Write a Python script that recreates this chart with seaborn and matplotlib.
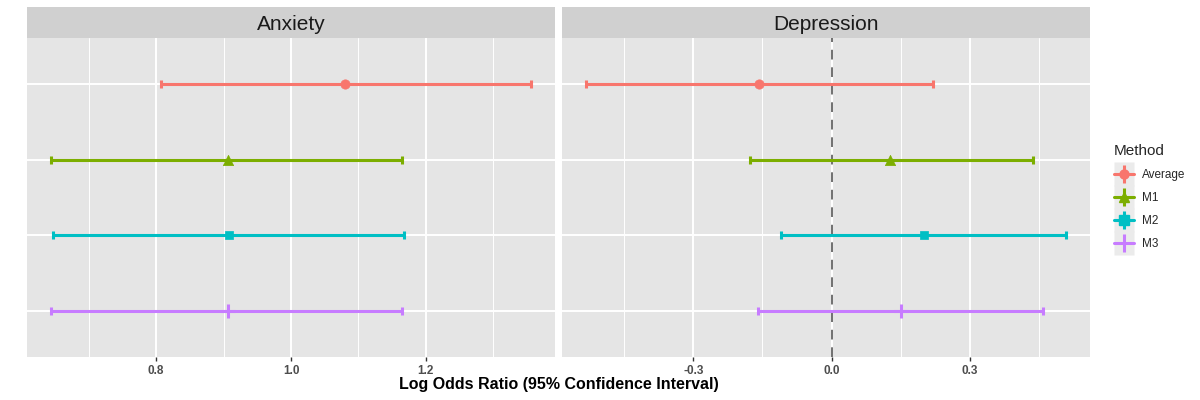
import numpy as np
import pandas as pd
import matplotlib
matplotlib.use("Agg")
import matplotlib.pyplot as plt
from matplotlib.ticker import MultipleLocator, AutoMinorLocator
from matplotlib.lines import Line2D
from matplotlib.legend_handler import HandlerTuple
import seaborn as sns

# ---- data ----
methods = ["Average", "M1", "M2", "M3"]
outcomes = ["Anxiety", "Depression"]
anx_est = [1.080, 0.907, 0.908, 0.907]
anx_lo = [0.807, 0.644, 0.647, 0.644]
anx_hi = [1.356, 1.164, 1.167, 1.164]
dep_est = [-0.157, 0.128, 0.200, 0.150]
dep_lo = [-0.533, -0.178, -0.109, -0.159]
dep_hi = [0.220, 0.437, 0.509, 0.459]
x_label = "Log Odds Ratio (95% Confidence Interval)"
legend_title = "Method"

colors = ["#F8766D", "#7CAE00", "#00BFC4", "#C77CFF"]
markers = ["o", "^", "s", "+"]
msizes = [45, 55, 40, 90]

df = pd.DataFrame({
    "Outcome": np.repeat(outcomes, len(methods)),
    "Method": methods * 2,
    "est": anx_est + dep_est,
    "lo": anx_lo + dep_lo,
    "hi": anx_hi + dep_hi,
})

sns.set_theme(style="darkgrid", rc={
    "axes.facecolor": "#E5E5E5",
    "grid.color": "white",
    "axes.edgecolor": "none",
    "axes.unicode_minus": False,
})
plt.rcParams["font.family"] = ["Liberation Sans", "DejaVu Sans"]
plt.rcParams["axes.unicode_minus"] = False

fig = plt.figure(figsize=(12, 4), dpi=100)
W, H = 1200, 400
top, bottom = 38, 357
strip_top = 7
panels = [(27, 555), (562, 1090)]

for (x0, x1), outcome in zip(panels, outcomes):
    ax = fig.add_axes([x0 / W, 1 - bottom / H, (x1 - x0) / W, (bottom - top) / H])
    sub = df[df["Outcome"] == outcome]
    for m, c, mk, s in zip(methods, colors, markers, msizes):
        r = sub[sub["Method"] == m]
        ax.errorbar(r["est"], r["Method"],
                    xerr=[r["est"] - r["lo"], r["hi"] - r["est"]],
                    fmt="none", ecolor=c, elinewidth=2.2, capsize=3,
                    capthick=2.2, zorder=3)
        if mk == "+":
            sns.scatterplot(data=r, x="est", y="Method", marker=mk, color=c,
                            s=s, linewidth=2.2, ax=ax, zorder=4, legend=False)
        else:
            sns.scatterplot(data=r, x="est", y="Method", marker=mk, color=c,
                            s=s, edgecolor=c, linewidth=0.5, ax=ax, zorder=4,
                            legend=False)
    lo = sub["lo"].min()
    hi = sub["hi"].max()
    pad = (hi - lo) * 0.05
    ax.set_xlim(lo - pad, hi + pad)
    ax.set_ylim(len(methods) - 1 + 0.6, -0.6)
    if outcome == "Anxiety":
        ax.xaxis.set_major_locator(MultipleLocator(0.2))
    else:
        ax.xaxis.set_major_locator(MultipleLocator(0.3))
        ax.axvline(0, color="#707070", lw=1.4, ls=(0, (5, 4)), zorder=2)
    ax.xaxis.set_minor_locator(AutoMinorLocator(2))
    ax.grid(which="major", color="white", lw=1.4)
    ax.grid(which="minor", axis="x", color="white", lw=0.7)
    ax.set_yticklabels([])
    ax.tick_params(axis="y", length=0)
    ax.tick_params(axis="x", which="major", length=3, width=1, color="#333333",
                   labelsize=8.5, labelcolor="#4D4D4D", pad=3, bottom=True)
    ax.tick_params(axis="x", which="minor", length=0)
    for lab in ax.get_xticklabels():
        lab.set_fontweight("bold")
    ax.set_xlabel("")
    ax.set_ylabel("")
    ax.set_axisbelow(True)

    sax = fig.add_axes([x0 / W, 1 - top / H, (x1 - x0) / W, (top - strip_top) / H])
    sax.set_facecolor("#D0D0D0")
    sax.set_xticks([])
    sax.set_yticks([])
    sax.grid(False)
    for sp in sax.spines.values():
        sp.set_visible(False)
    sax.text(0.5, 0.45, outcome, ha="center", va="center", fontsize=15,
             color="#1A1A1A", transform=sax.transAxes)

fig.text((27 + 1090) / 2 / W, 1 - 384 / H, x_label, ha="center", va="center",
         fontsize=11.5, fontweight="bold", color="black")

# legend: key background + horizontal line with marker + vertical line
key_box = [(-0.87, -1), (0.87, -1), (0.87, 1), (-0.87, 1), (-0.87, -1)]
handles = []
for m, c, mk in zip(methods, colors, markers):
    bg = Line2D([], [], ls="none", marker=key_box, ms=17, mfc="#EBEBEB",
                mec="none")
    hl = Line2D([], [], color=c, lw=2.2, marker=mk if mk != "+" else None,
                ms=6.5, mfc=c, mec=c)
    vl = Line2D([], [], ls="none", marker="|", ms=13, mew=2.2, color=c)
    handles.append((bg, hl, vl))
leg = fig.legend(handles=handles, labels=methods, title=legend_title,
                 handler_map={tuple: HandlerTuple(ndivide=1, pad=0)},
                 loc="center left", bbox_to_anchor=(1103 / W, 1 - 197 / H),
                 frameon=False, fontsize=8.5, title_fontsize=11,
                 handlelength=1.7, handletextpad=0.7, labelspacing=0.95,
                 numpoints=1)
leg._legend_box.align = "left"

fig.savefig("out.png", dpi=100)
